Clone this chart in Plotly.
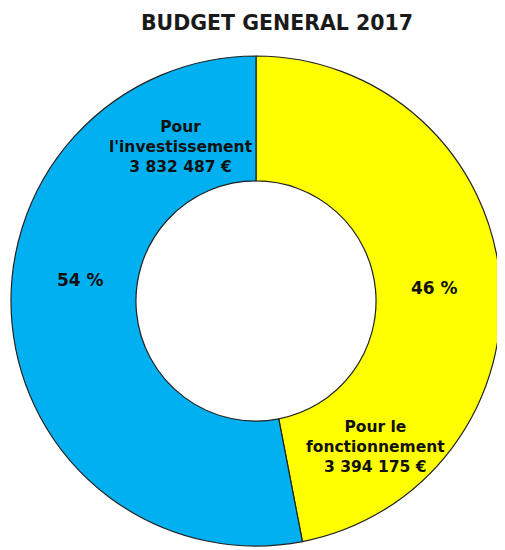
import plotly.graph_objects as go

categories = ["Pour le fonctionnement", "Pour l'investissement"]
values = [3394175, 3832487]
pct_labels = ["46 %", "54 %"]
colors = ["#FFFF00", "#00B0F0"]
title = "BUDGET GENERAL 2017"

FONT = "DejaVu Sans"
# page has an 8px body margin; figure sized to fit window
W, H = 497, 542
L, R, T, B = 2, 3, 48, 4
PW, PH = W - L - R, H - T - B


def px(x, y):
    """page pixel -> paper coords"""
    return (x - 8 - L) / PW, 1 - (y - 8 - T) / PH


def fmt(v):
    return f"{v:,}".replace(",", " ") + " €"


fig = go.Figure(go.Pie(
    labels=categories,
    values=values,
    textinfo="none",
    hole=0.49,
    sort=False,
    direction="clockwise",
    rotation=0,
    marker=dict(colors=colors, line=dict(color="#222222", width=1.2)),
    showlegend=False,
    hoverinfo="label+value+percent",
))

lab_font = dict(family=FONT, size=15.5, color="#111111", weight="bold")
pct_font = dict(family=FONT, size=17, color="#111111", weight="bold")


def add_text(xp, yp, text, font):
    x, y = px(xp, yp)
    fig.add_annotation(x=x, y=y, xref="paper", yref="paper", text=text,
                       showarrow=False, font=font, align="center",
                       xanchor="center", yanchor="middle")


add_text(181, 147, "Pour<br>l'investissement<br>" + fmt(values[1]), lab_font)
add_text(375, 447, "Pour le<br>fonctionnement<br>" + fmt(values[0]), lab_font)
add_text(80, 280, pct_labels[1], pct_font)
add_text(434, 288, pct_labels[0], pct_font)

fig.update_layout(
    width=W, height=H,
    margin=dict(l=L, r=R, t=T, b=B),
    paper_bgcolor="white",
    plot_bgcolor="white",
    title=dict(
        text=title,
        x=(277 - 8) / W, y=1 - (23 - 8) / H, xanchor="center", yanchor="middle",
        font=dict(family=FONT, size=20.5, color="#1a1a1a", weight="bold"),
    ),
)

fig.write_html("out.html")
